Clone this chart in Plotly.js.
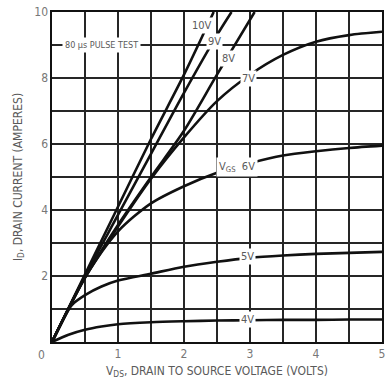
<!DOCTYPE html>
<html>
<head>
<meta charset="utf-8">
<script src="https://cdn.plot.ly/plotly-3.0.1.min.js"></script>
<style>html,body{margin:0;padding:0;background:#fff;}#chart{width:392px;height:381px;}</style>
</head>
<body>
<div id="chart"></div>
<script>
// ---- data ----
const vgsLabels = ['10V', '9V', '8V', '7V', '6V', '5V', '4V'];

const vds10 = [0, 0.5, 1.0, 1.5, 2.0, 2.45];
const id10  = [0, 2.05, 4.1, 6.15, 8.1, 10];

const vds9 = [0, 0.5, 1.0, 1.5, 2.0, 2.5, 2.72];
const id9  = [0, 2.0, 3.85, 5.7, 7.55, 9.3, 10];

const vds8 = [0, 0.5, 1.0, 1.5, 2.0, 2.5, 3.07];
const id8  = [0, 1.95, 3.55, 5.0, 6.4, 8.1, 10];

const vds7 = [0, 0.5, 1.0, 1.5, 2.0, 2.5, 3.0, 3.5, 4.0, 4.5, 5.0];
const id7  = [0, 1.95, 3.5, 4.95, 6.2, 7.3, 8.1, 8.7, 9.1, 9.3, 9.4];

const vds6 = [0, 0.5, 1.0, 1.5, 2.0, 2.5, 3.0, 3.5, 4.0, 4.5, 5.0];
const id6  = [0, 1.95, 3.35, 4.2, 4.72, 5.13, 5.42, 5.65, 5.78, 5.88, 5.95];

const vds5 = [0, 0.15, 0.3, 0.5, 0.75, 1.0, 1.5, 2.0, 2.5, 3.0, 3.5, 4.0, 4.5, 5.0];
const id5  = [0, 0.6, 1.12, 1.42, 1.68, 1.86, 2.07, 2.28, 2.43, 2.55, 2.62, 2.67, 2.7, 2.73];

const vds4 = [0, 0.25, 0.5, 0.75, 1.0, 1.5, 2.0, 2.5, 3.0, 3.5, 4.0, 4.5, 5.0];
const id4  = [0, 0.22, 0.37, 0.47, 0.54, 0.6, 0.63, 0.65, 0.66, 0.67, 0.67, 0.68, 0.68];

const xTickVals = [1, 2, 3, 4, 5];
const xTickText = ['1', '2', '3', '4', '5'];
const yTickVals = [2, 4, 6, 8, 10];
const yTickText = ['2', '4', '6', '8', '10'];
const originLabel = '0';
const noteText = '80 \u03bcs PULSE TEST';
const xTitle = 'V<sub>DS</sub>, DRAIN TO SOURCE VOLTAGE (VOLTS)';
const yTitle = 'I<sub>D</sub>, DRAIN CURRENT (AMPERES)';
const vgsSymbol = 'V<sub>GS</sub>';

// ---- build ----
const FONT = '"Liberation Sans Narrow", "DejaVu Sans Condensed", "Arial Narrow", sans-serif';
const TXT = '#5a5a5a';
const series = [[vds10, id10], [vds9, id9], [vds8, id8], [vds7, id7], [vds6, id6], [vds5, id5], [vds4, id4]];

const traces = series.map((s, i) => ({
  x: s[0], y: s[1], type: 'scatter', mode: 'lines', name: vgsLabels[i],
  line: {color: '#111', width: 2.6, shape: 'spline', smoothing: 0.8},
  hoverinfo: 'skip'
}));

// label positions (x, y) per curve
const labelPos = [[2.28, 9.58], [2.46, 9.1], [2.67, 8.58], [2.97, 7.98], [2.8, 5.3], [2.96, 2.58], [2.96, 0.68]];
const annotations = labelPos.map((p, i) => ({
  x: p[0], y: p[1], xref: 'x', yref: 'y',
  text: i === 4 ? vgsSymbol + '  ' + vgsLabels[i] : vgsLabels[i],
  showarrow: false,
  font: {family: FONT, size: 11, color: TXT}, bgcolor: '#fff', borderpad: i === 4 ? 2 : 1
}));
annotations.push({x: 0.75, y: 9, xref: 'x', yref: 'y', text: noteText, showarrow: false,
  font: {family: FONT, size: 9, color: TXT}, bgcolor: '#fff', borderpad: 2});
annotations.push({x: 0, y: 0, xref: 'x', yref: 'y', text: originLabel, showarrow: false,
  xshift: -11, yshift: -13, font: {family: FONT, size: 12, color: '#777'}});

const GRID = '#262626';
const layout = {
  width: 392, height: 381,
  margin: {l: 52, r: 10, t: 12, b: 39},
  paper_bgcolor: '#fff', plot_bgcolor: '#fff',
  showlegend: false,
  font: {family: FONT, color: TXT},
  xaxis: {
    range: [0, 5], tickmode: 'array', tickvals: xTickVals, ticktext: xTickText,
    showgrid: true, gridcolor: GRID, gridwidth: 1.2,
    minor: {dtick: 0.5, tick0: 0, showgrid: true, gridcolor: GRID, gridwidth: 1.2, ticks: ''},
    showline: true, mirror: true, linecolor: '#111', linewidth: 1.6,
    ticks: '', zeroline: false, fixedrange: true,
    tickfont: {family: FONT, size: 12, color: '#777'},
    title: {text: xTitle, font: {family: FONT, size: 12, color: TXT}, standoff: 6}
  },
  yaxis: {
    range: [0, 10], tickmode: 'array', tickvals: yTickVals, ticktext: yTickText,
    showgrid: true, gridcolor: GRID, gridwidth: 1.2,
    minor: {dtick: 1, tick0: 0, showgrid: true, gridcolor: GRID, gridwidth: 1.2, ticks: ''},
    showline: true, mirror: true, linecolor: '#111', linewidth: 1.6,
    ticks: '', zeroline: false, fixedrange: true,
    tickfont: {family: FONT, size: 12, color: '#777'},
    title: {text: yTitle, font: {family: FONT, size: 12, color: TXT}, standoff: 9}
  },
  annotations: annotations
};

Plotly.newPlot('chart', traces, layout, {staticPlot: true, displayModeBar: false});
</script>
</body>
</html>
